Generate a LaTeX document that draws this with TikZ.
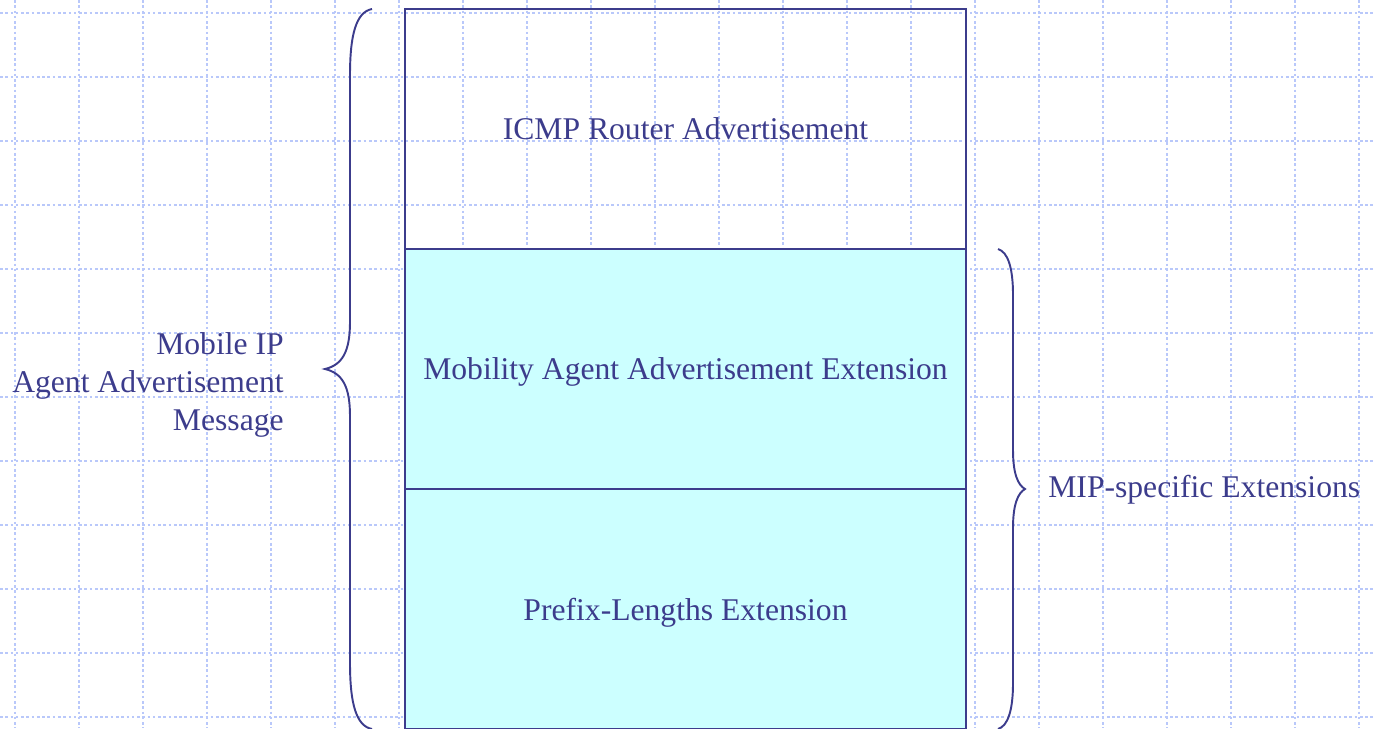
\documentclass[tikz,border=0pt]{standalone}
\usepackage{fontspec}
\setmainfont{Liberation Serif}
\usetikzlibrary{calc}
\definecolor{mipblue}{RGB}{60,60,140}
\definecolor{mipcyan}{RGB}{204,255,255}
\definecolor{gridblue}{RGB}{185,200,250}
\begin{document}
\begin{tikzpicture}[x=0.02cm,y=-0.02cm,
	every node/.style={text=mipblue,font=\fontsize{18pt}{21.6pt}\selectfont},
	part/.style={draw=mipblue,line width=1.1pt,minimum width=11.22cm,minimum height=4.8cm,inner sep=0pt,text depth=0pt},
	curly/.style={draw=mipblue,line width=1.1pt}]
	\useasboundingbox (0,0) rectangle (1375,728);
	%background grid
	\begin{scope}[gridblue,line width=0.6pt,dash pattern=on 1.5pt off 1.5pt]
	\foreach \x in {15,79,...,1375} \draw (\x,0) -- (\x,728);
	\foreach \y in {13,77,...,728} \draw (0,\y) -- (1375,\y);
	\end{scope}
	%message parts
	\node[part] (icmp) at (685.5,129) {ICMP Router Advertisement};
	\node[part,fill=mipcyan] (maa) at (685.5,369) {Mobility Agent Advertisement Extension};
	\node[part,fill=mipcyan] (pfx) at (685.5,609) {Prefix-Lengths Extension};
	%braces
	\draw[curly] (372,9) .. controls (356,12) and (350,35) .. (350,75) -- (350,322)
		.. controls (350,352) and (342,365) .. (325,369)
		.. controls (342,373) and (350,386) .. (350,416) -- (350,663)
		.. controls (350,703) and (356,726) .. (372,729);
	\draw[curly] (998,249) .. controls (1008,252) and (1013,268) .. (1013,295) -- (1013,450)
		.. controls (1013,474) and (1018,485) .. (1025,489)
		.. controls (1018,493) and (1013,504) .. (1013,528) -- (1013,683)
		.. controls (1013,710) and (1008,726) .. (998,729);
	%labels
	\node[align=right,anchor=east,inner sep=0pt] (msg) at (284,385) {Mobile IP\\Agent Advertisement\\Message};
	\node[anchor=west,inner sep=0pt] (ext) at (1048,490) {MIP-specific Extensions};
\end{tikzpicture}
\end{document}
